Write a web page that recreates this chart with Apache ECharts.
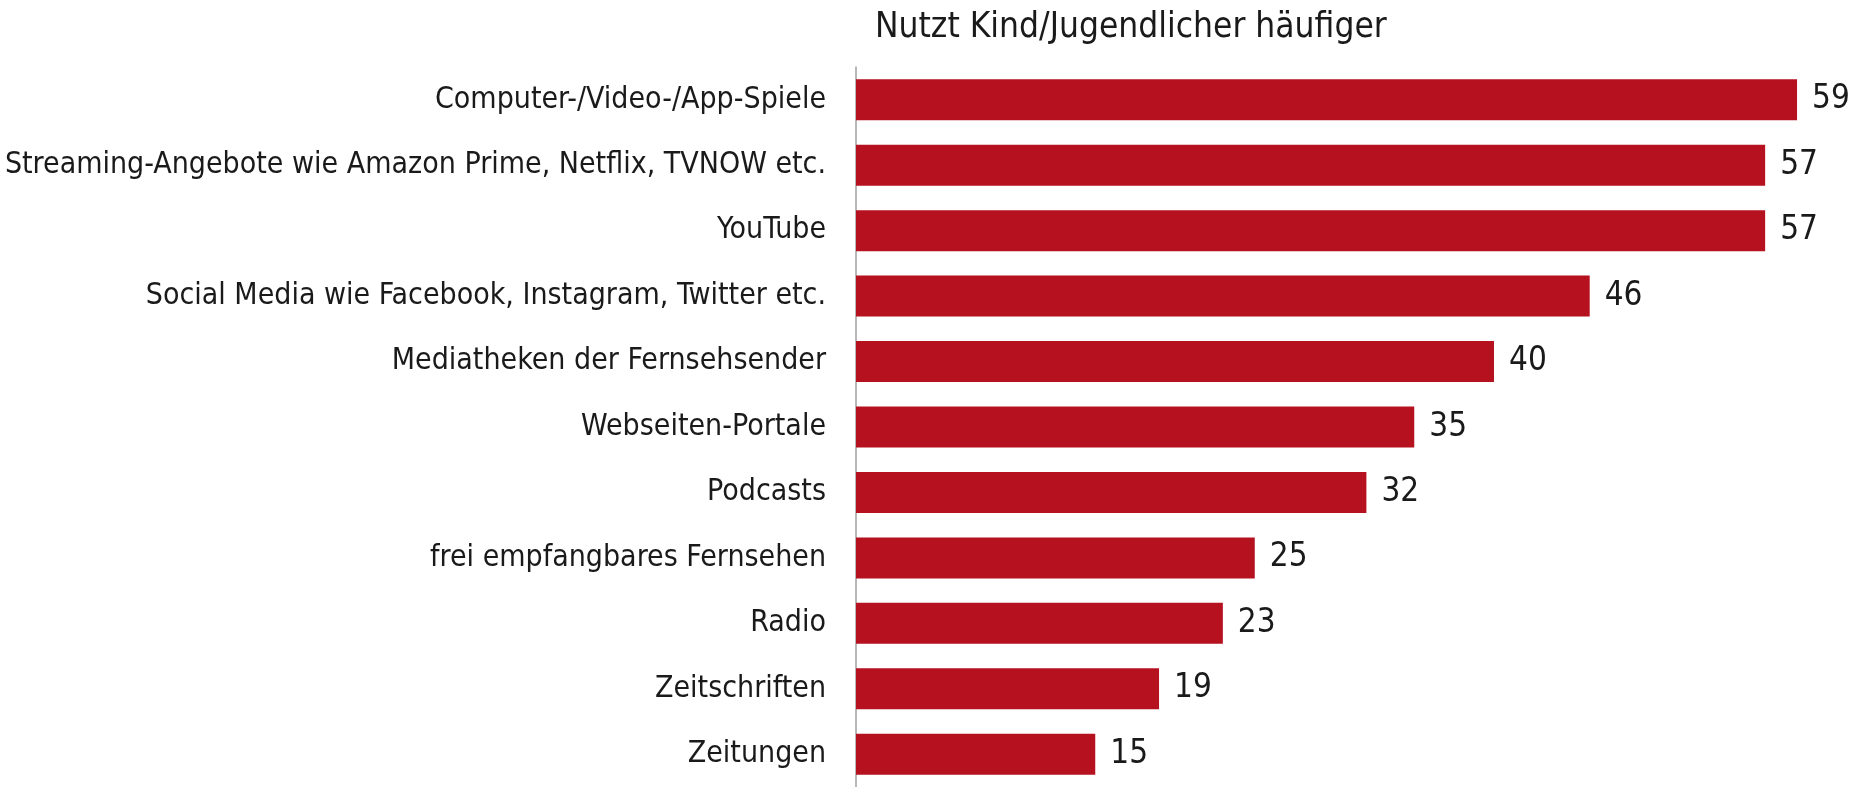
<!DOCTYPE html>
<html>
<head>
<meta charset="utf-8">
<script src="https://cdn.jsdelivr.net/npm/echarts@6/dist/echarts.min.js"></script>
<style>html,body{margin:0;padding:0;background:#fff}#c{width:1858px;height:787px}</style>
</head>
<body>
<div id="c"></div>
<script>
const categories = [
  "Computer-/Video-/App-Spiele",
  "Streaming-Angebote wie Amazon Prime, Netflix, TVNOW etc.",
  "YouTube",
  "Social Media wie Facebook, Instagram, Twitter etc.",
  "Mediatheken der Fernsehsender",
  "Webseiten-Portale",
  "Podcasts",
  "frei empfangbares Fernsehen",
  "Radio",
  "Zeitschriften",
  "Zeitungen"
];
const values = [59, 57, 57, 46, 40, 35, 32, 25, 23, 19, 15];
const titleText = "Nutzt Kind/Jugendlicher häufiger";

const FONT = "DejaVu Sans Condensed";
const chart = echarts.init(document.getElementById('c'));
chart.setOption({
  animation: false,
  title: {
    text: titleText,
    left: 870, top: 5,
    textStyle: { fontFamily: FONT, fontSize: 35, fontWeight: 'normal', color: '#1a1a1a' }
  },
  grid: { left: 856, right: 45, top: 67, bottom: -7, containLabel: false },
  xAxis: {
    type: 'value', min: 0, max: 60, show: false
  },
  yAxis: {
    type: 'category', data: categories, inverse: true,
    axisLine: { show: true, lineStyle: { color: '#a0a0a0', width: 1.5 } },
    axisTick: { show: false },
    axisLabel: { fontFamily: FONT, fontSize: 30, color: '#1a1a1a', margin: 30 }
  },
  series: [{
    type: 'bar', data: values, barWidth: 41,
    itemStyle: { color: '#b5111f' },
    label: { show: true, position: 'right', distance: 15, fontFamily: FONT, fontSize: 33, color: '#1a1a1a' }
  }]
});
</script>
</body>
</html>
